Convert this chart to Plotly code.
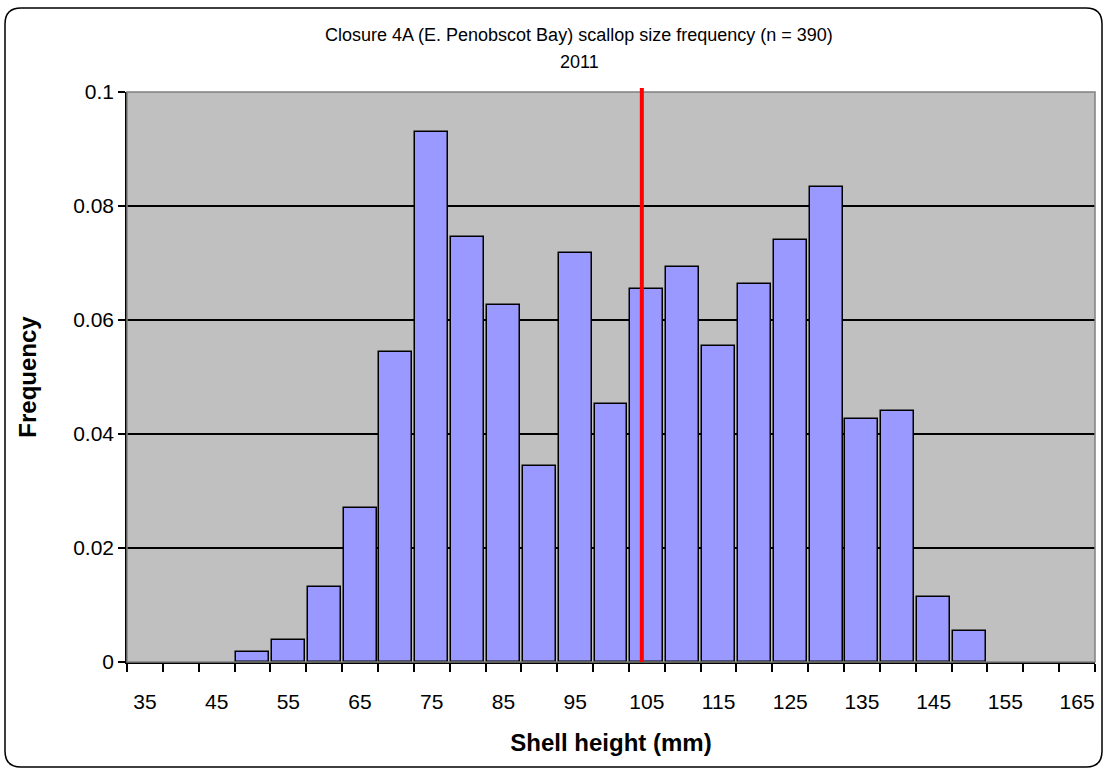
import plotly.graph_objects as go

# ---- data ----
size_classes = [35, 40, 45, 50, 55, 60, 65, 70, 75, 80, 85, 90, 95, 100,
                105, 110, 115, 120, 125, 130, 135, 140, 145, 150, 155, 160, 165]
frequency = [0, 0, 0, 0.0018, 0.0039, 0.0131, 0.0270, 0.0544, 0.0929, 0.0745,
             0.0626, 0.0344, 0.0718, 0.0452, 0.0655, 0.0693, 0.0555, 0.0663,
             0.0741, 0.0833, 0.0426, 0.0441, 0.0114, 0.0055, 0, 0, 0]
x_tick_labels = [35, 45, 55, 65, 75, 85, 95, 105, 115, 125, 135, 145, 155, 165]
y_tick_values = [0, 0.02, 0.04, 0.06, 0.08, 0.1]
reference_line_mm = 104.3
title_line1 = "Closure 4A (E. Penobscot Bay) scallop size frequency (n = 390)"
title_line2 = "2011"

FONT = "Liberation Sans, Arial, sans-serif"

W, H = 1106, 770
L, R, T, B = 127, 1095, 92, 662  # plot area in pixels


def px(x):
    return (x - L) / (R - L)


def py(y):
    return (B - y) / (B - T)


fig = go.Figure()
fig.add_trace(go.Bar(
    x=size_classes, y=[v if v > 0 else None for v in frequency], width=4.6,
    marker=dict(color="#9999FF", line=dict(color="black", width=1.5)),
    showlegend=False, hoverinfo="x+y",
))

# chart-area rounded border
x0, x1, y0, y1, r = 5, 1102, 8, 767, 16
path = (f"M {px(x0+r)},{py(y0)} L {px(x1-r)},{py(y0)} Q {px(x1)},{py(y0)} {px(x1)},{py(y0+r)} "
        f"L {px(x1)},{py(y1-r)} Q {px(x1)},{py(y1)} {px(x1-r)},{py(y1)} "
        f"L {px(x0+r)},{py(y1)} Q {px(x0)},{py(y1)} {px(x0)},{py(y1-r)} "
        f"L {px(x0)},{py(y0+r)} Q {px(x0)},{py(y0)} {px(x0+r)},{py(y0)} Z")

shapes = [
    dict(type="path", xref="paper", yref="paper", path=path,
         line=dict(color="black", width=1.5), layer="below"),
    dict(type="rect", xref="paper", yref="paper", x0=0, x1=1, y0=0, y1=1,
         line=dict(color="#808080", width=1.5), layer="above"),
    dict(type="line", xref="x", yref="paper", x0=reference_line_mm, x1=reference_line_mm,
         y0=0, y1=1.007, line=dict(color="#FF0000", width=4), layer="above"),
]

annotations = [
    dict(text=title_line1, xref="paper", yref="paper", x=px(579), y=py(35),
         showarrow=False, font=dict(family=FONT, size=18, color="black"),
         xanchor="center", yanchor="middle"),
    dict(text=title_line2, xref="paper", yref="paper", x=px(579), y=py(62),
         showarrow=False, font=dict(family=FONT, size=18, color="black"),
         xanchor="center", yanchor="middle"),
]

fig.update_layout(
    width=W, height=H,
    margin=dict(l=L, r=W - R, t=T, b=H - B),
    paper_bgcolor="white", plot_bgcolor="#C0C0C0",
    bargap=0,
    shapes=shapes, annotations=annotations,
    font=dict(family=FONT, color="black"),
)

fig.update_xaxes(
    range=[32.5, 167.5], tickmode="array", tickvals=x_tick_labels,
    ticktext=[str(v) for v in x_tick_labels],
    ticks="", showgrid=False, zeroline=False,
    showline=True, linecolor="black", linewidth=1.5,
    minor=dict(ticks="outside", tick0=32.5, dtick=5, ticklen=8,
               tickcolor="black", tickwidth=1.5, showgrid=False),
    tickfont=dict(family=FONT, size=21, color="black"),
    ticklabelstandoff=20,
    title=dict(text="<b>Shell height (mm)</b>", font=dict(family=FONT, size=24, color="black"),
               standoff=22),
)

fig.update_yaxes(
    range=[0, 0.1], tickmode="array", tickvals=y_tick_values,
    ticktext=["0", "0.02", "0.04", "0.06", "0.08", "0.1"],
    ticks="outside", ticklen=7, tickcolor="black", tickwidth=1.5,
    showgrid=True, gridcolor="black", gridwidth=1.5, zeroline=False,
    showline=True, linecolor="black", linewidth=1.5,
    tickfont=dict(family=FONT, size=21, color="black"),
    title=dict(text="<b>Frequency</b>", font=dict(family=FONT, size=24, color="black"),
               standoff=30),
)

fig.write_html(
    "out.html",
    config={"displayModeBar": False},
    post_script="document.body.style.margin='0';document.body.style.overflow='hidden';",
)
